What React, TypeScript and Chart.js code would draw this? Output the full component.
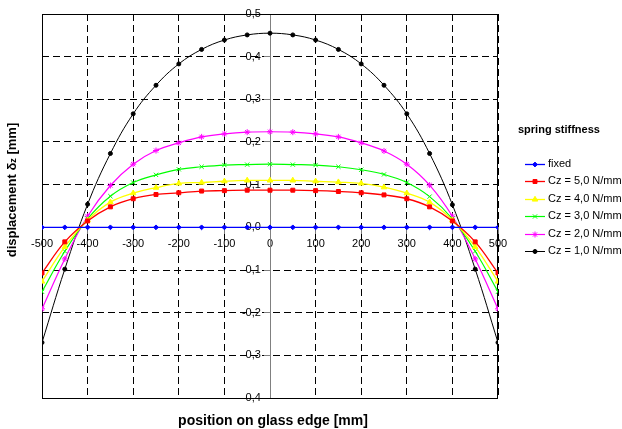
import React, { useEffect, useRef } from 'react';
import { Chart, registerables } from 'chart.js';
import { drawPoint } from 'chart.js/helpers';

Chart.register(...registerables);

const positions = [-500, -450, -400, -350, -300, -250, -200, -150, -100, -50, 0, 50, 100, 150, 200, 250, 300, 350, 400, 450, 500];
const fixed = [0, 0, 0, 0, 0, 0, 0, 0, 0, 0, 0, 0, 0, 0, 0, 0, 0, 0, 0, 0, 0];
const cz5 = [-0.107, -0.034, 0.015, 0.048, 0.067, 0.077, 0.081, 0.085, 0.086, 0.087, 0.087, 0.087, 0.086, 0.084, 0.081, 0.076, 0.067, 0.048, 0.015, -0.034, -0.107];
const cz4 = [-0.127, -0.046, 0.017, 0.059, 0.080, 0.093, 0.103, 0.105, 0.108, 0.110, 0.110, 0.110, 0.108, 0.106, 0.103, 0.094, 0.080, 0.059, 0.017, -0.046, -0.127];
const cz3 = [-0.151, -0.056, 0.020, 0.073, 0.105, 0.123, 0.136, 0.142, 0.146, 0.147, 0.148, 0.147, 0.146, 0.142, 0.135, 0.124, 0.105, 0.072, 0.020, -0.056, -0.151];
const cz2 = [-0.191, -0.074, 0.026, 0.098, 0.148, 0.180, 0.198, 0.212, 0.219, 0.223, 0.224, 0.223, 0.219, 0.212, 0.198, 0.179, 0.148, 0.099, 0.026, -0.074, -0.191];
const cz1 = [-0.270, -0.098, 0.054, 0.173, 0.266, 0.333, 0.383, 0.417, 0.439, 0.451, 0.455, 0.451, 0.439, 0.417, 0.383, 0.333, 0.266, 0.173, 0.053, -0.098, -0.270];

const seriesLabels = ['fixed', 'Cz = 5,0 N/mm', 'Cz = 4,0 N/mm', 'Cz = 3,0 N/mm', 'Cz = 2,0 N/mm', 'Cz = 1,0 N/mm'];
const seriesValues = [fixed, cz5, cz4, cz3, cz2, cz1];
const seriesColors = ['#0000FF', '#FF0000', '#FFFF00', '#00FF00', '#FF00FF', '#000000'];
const seriesPointStyles = ['rectRot', 'rect', 'triangle', 'crossRot', 'star', 'circle'];
const seriesPointRadius = [2.4, 2.8, 3.2, 3, 3, 2];
const seriesLineWidth = [1.3, 1.3, 1.3, 1.2, 1.2, 1];

const legendTitle = 'spring stiffness';
const xTitle = 'position on glass edge [mm]';
const yTitleMain = 'displacement δ';
const yTitleSub = 'z';
const yTitleEnd = ' [mm]';

const FONT = "'Liberation Sans', Arial, sans-serif";

const fmt = (v: number, dec: number) => {
  if (Math.abs(v) < 1e-9) return dec ? '0,0' : '0';
  return v.toFixed(dec).replace('.', ',');
};

const decorPlugin = {
  id: 'decor',
  beforeDatasetsDraw(chart: any) {
    const { ctx, chartArea: a } = chart;
    ctx.save();
    ctx.strokeStyle = '#000';
    ctx.lineWidth = 1;
    ctx.setLineDash([]);
    ctx.strokeRect(Math.round(a.left) + 0.5, Math.round(a.top) + 0.5, Math.round(a.right - a.left) - 1, Math.round(a.bottom - a.top));
    ctx.restore();
  },
  afterDraw(chart: any) {
    const { ctx, chartArea: a } = chart;
    ctx.save();
    ctx.fillStyle = '#000';
    // x title
    ctx.font = `bold 14px ${FONT}`;
    ctx.textAlign = 'center';
    ctx.textBaseline = 'middle';
    ctx.fillText(xTitle, (a.left + a.right) / 2 + 3, a.bottom + 23);
    // y title with subscript
    const cy = (a.top + a.bottom) / 2 - 16;
    ctx.translate(12, cy);
    ctx.rotate(-Math.PI / 2);
    const mainFont = `bold 13px ${FONT}`;
    const subFont = `bold 9px ${FONT}`;
    ctx.font = mainFont;
    const w1 = ctx.measureText(yTitleMain).width;
    const w3 = ctx.measureText(yTitleEnd).width;
    ctx.font = subFont;
    const w2 = ctx.measureText(yTitleSub).width;
    const total = w1 + w2 + w3;
    let x = -total / 2;
    ctx.textAlign = 'left';
    ctx.font = mainFont;
    ctx.fillText(yTitleMain, x, 0);
    x += w1;
    ctx.font = subFont;
    ctx.fillText(yTitleSub, x, 2);
    x += w2;
    ctx.font = mainFont;
    ctx.fillText(yTitleEnd, x, 0);
    ctx.restore();

    // legend
    ctx.save();
    const lx = a.right + 20;
    ctx.fillStyle = '#000';
    ctx.font = `bold 11px ${FONT}`;
    ctx.textAlign = 'left';
    ctx.textBaseline = 'middle';
    ctx.fillText(legendTitle, lx, a.top + 116);
    chart.data.datasets.forEach((ds: any, i: number) => {
      const y = a.top + 150 + i * 17.4;
      const py = Math.round(y) + 0.5;
      ctx.strokeStyle = ds.borderColor;
      ctx.lineWidth = ds.borderWidth;
      ctx.beginPath();
      ctx.moveTo(lx + 7, py);
      ctx.lineTo(lx + 27, py);
      ctx.stroke();
      ctx.fillStyle = ds.pointBackgroundColor;
      ctx.strokeStyle = ds.pointBorderColor;
      ctx.lineWidth = ds.pointBorderWidth;
      drawPoint(ctx, { pointStyle: ds.pointStyle, radius: ds.pointRadius, rotation: 0, borderWidth: ds.pointBorderWidth }, lx + 17, py);
      ctx.fillStyle = '#000';
      ctx.font = `11px ${FONT}`;
      ctx.fillText(ds.label, lx + 30, y);
    });
    ctx.restore();
  },
};

export default function App() {
  const ref = useRef<HTMLCanvasElement>(null);
  useEffect(() => {
    if (!ref.current) return;
    const datasets = seriesValues.map((vals, i) => ({
      label: seriesLabels[i],
      data: positions.map((x, j) => ({ x, y: vals[j] })),
      borderColor: seriesColors[i],
      backgroundColor: seriesColors[i],
      pointBackgroundColor: seriesColors[i],
      pointBorderColor: seriesColors[i],
      pointBorderWidth: 1,
      borderWidth: seriesLineWidth[i],
      pointStyle: seriesPointStyles[i],
      pointRadius: seriesPointRadius[i],
      tension: 0.4,
      fill: false,
    }));
    const gridColor = (c: any) => (c.tick && Math.abs(c.tick.value) < 1e-9 ? 'rgba(0,0,0,0)' : '#000');
    const chart = new Chart(ref.current, {
      type: 'line',
      data: { datasets },
      plugins: [decorPlugin],
      options: {
        animation: false,
        responsive: false,
        layout: { padding: { left: 42, top: 14, right: 124, bottom: 31 } },
        plugins: { legend: { display: false }, tooltip: { enabled: false } },
        scales: {
          x: {
            type: 'linear',
            min: -500,
            max: 500,
            position: { y: 0 } as any,
            ticks: {
              stepSize: 100,
              color: '#000',
              font: { family: FONT, size: 11 },
              padding: 4,
              maxRotation: 0,
              callback: (v: any) => fmt(Number(v), 0),
            },
            grid: {
              color: gridColor,
              lineWidth: 1,
              drawTicks: true,
              tickLength: 6,
              tickColor: '#808080',
              tickBorderDash: [],
            },
            border: { display: true, color: '#808080', width: 1, dash: [7, 4] },
          },
          y: {
            type: 'linear',
            min: -0.4,
            max: 0.5,
            position: { x: 0 } as any,
            ticks: {
              stepSize: 0.1,
              color: '#000',
              font: { family: FONT, size: 11 },
              padding: 4,
              callback: (v: any) => fmt(Number(v), 1) + '   ',
            },
            grid: {
              color: gridColor,
              lineWidth: 1,
              drawTicks: true,
              tickLength: 6,
              tickColor: '#808080',
              tickBorderDash: [],
            },
            border: { display: true, color: '#808080', width: 1, dash: [7, 4] },
          },
        },
      },
    });
    return () => chart.destroy();
  }, []);
  return (
    <div style={{ position: 'absolute', left: 0, top: 0, width: 622, height: 429, background: '#fff' }}>
      <canvas ref={ref} width={622} height={429} style={{ display: 'block' }} />
    </div>
  );
}
